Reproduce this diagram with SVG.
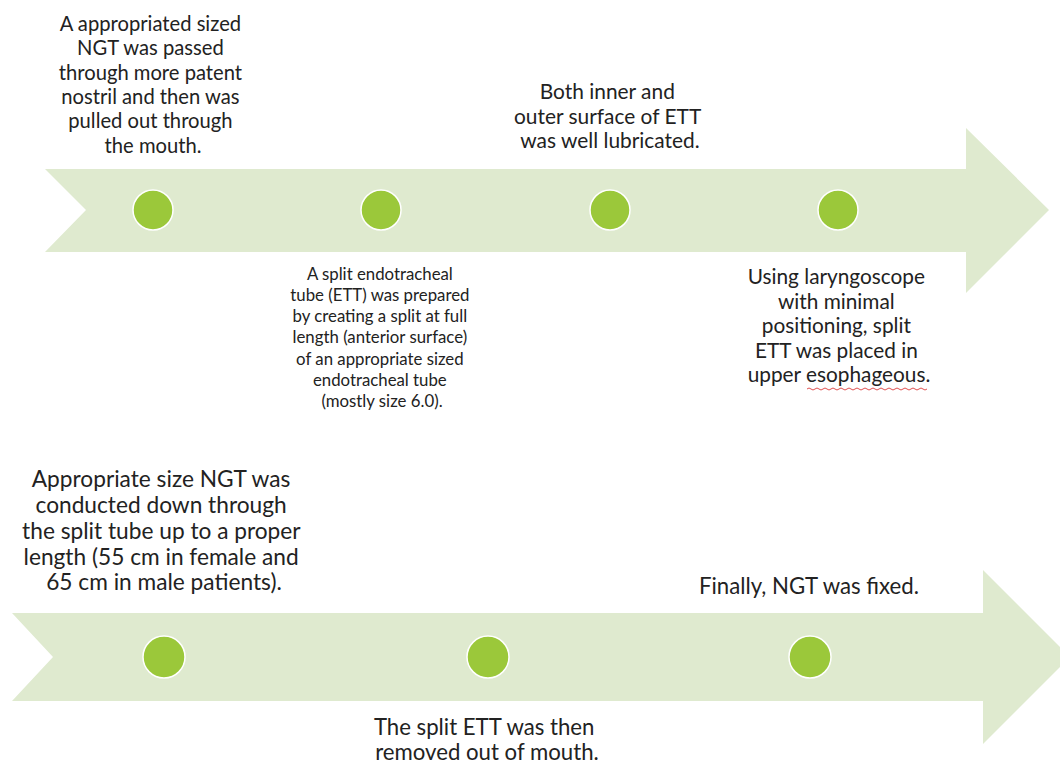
<svg xmlns="http://www.w3.org/2000/svg" width="1060" height="766" viewBox="0 0 1060 766">
  <style>
    .band { fill: #dfeacf; }
    .dot { fill: #9bc83a; stroke: #ffffff; stroke-width: 1.5; }
    text { font-family: Lato, "Open Sans", sans-serif; fill: #222222; text-anchor: middle; }
    .ta { font-size: 20.2px; }
    .tb { font-size: 16.8px; }
    .tc { font-size: 20.9px; }
    .td { font-size: 20.8px; }
    .te { font-size: 22.7px; }
    .tf { font-size: 22.2px; }
  </style>
  <rect width="1060" height="766" fill="#ffffff"/>

  <g id="connectors">
    <polygon id="arrow-top" class="band" points="45,169 966,169 966,128 1049,210 966,293 966,252 45,252 86,210"/>
    <polygon id="arrow-bottom" class="band" points="12,613 983,613 983,570 1070,657 983,744 983,701 12,701 53,657"/>
  </g>

  <g id="node1">
    <circle class="dot" cx="153" cy="210" r="20"/>
    <text class="ta">
      <tspan x="153" y="31">A appropriated sized</tspan>
      <tspan x="153" y="55">NGT was passed</tspan>
      <tspan x="153" y="80">through more patent</tspan>
      <tspan x="153" y="104">nostril and then was</tspan>
      <tspan x="153" y="128">pulled out through</tspan>
      <tspan x="153" y="153">the mouth.</tspan>
    </text>
  </g>

  <g id="node2">
    <circle class="dot" cx="381" cy="210" r="20"/>
    <text class="tb">
      <tspan x="382" y="280">A split endotracheal</tspan>
      <tspan x="382" y="301">tube (ETT) was prepared</tspan>
      <tspan x="382" y="322">by creating a split at full</tspan>
      <tspan x="382" y="343">length (anterior surface)</tspan>
      <tspan x="382" y="365">of an appropriate sized</tspan>
      <tspan x="382" y="386">endotracheal tube</tspan>
      <tspan x="382" y="407">(mostly size 6.0).</tspan>
    </text>
  </g>

  <g id="node3">
    <circle class="dot" cx="610" cy="210" r="20"/>
    <text class="tc">
      <tspan x="610" y="99">Both inner and</tspan>
      <tspan x="610" y="124">outer surface of ETT</tspan>
      <tspan x="610" y="148">was well lubricated.</tspan>
    </text>
  </g>

  <g id="node4">
    <circle class="dot" cx="838" cy="210" r="20"/>
    <text class="td">
      <tspan x="839" y="284">Using laryngoscope</tspan>
      <tspan x="839" y="308.5">with minimal</tspan>
      <tspan x="839" y="333">positioning, split</tspan>
      <tspan x="839" y="357.5">ETT was placed in</tspan>
      <tspan x="839" y="382">upper esophageous.</tspan>
    </text>
    <path d="M807,389 q2,-2 4,0 t4,0 t4,0 t4,0 t4,0 t4,0 t4,0 t4,0 t4,0 t4,0 t4,0 t4,0 t4,0 t4,0 t4,0 t4,0 t4,0 t4,0 t4,0 t4,0 t4,0 t4,0 t4,0 t4,0 t4,0 t4,0 t4,0 t4,0 t4,0 t4,0" fill="none" stroke="#e05050" stroke-width="1"/>
  </g>

  <g id="node5">
    <circle class="dot" cx="164" cy="657" r="21"/>
    <text class="te">
      <tspan x="164" y="487">Appropriate size NGT was</tspan>
      <tspan x="164" y="513">conducted down through</tspan>
      <tspan x="164" y="539">the split tube up to a proper</tspan>
      <tspan x="164" y="565">length (55 cm in female and</tspan>
      <tspan x="164" y="590">65 cm in male patients).</tspan>
    </text>
  </g>

  <g id="node6">
    <circle class="dot" cx="488" cy="657" r="21"/>
    <text class="tf">
      <tspan x="487" y="735">The split ETT was then</tspan>
      <tspan x="487" y="760">removed out of mouth.</tspan>
    </text>
  </g>

  <g id="node7">
    <circle class="dot" cx="810" cy="657" r="21"/>
    <text class="tf">
      <tspan x="809" y="594">Finally, NGT was fixed.</tspan>
    </text>
  </g>
</svg>
